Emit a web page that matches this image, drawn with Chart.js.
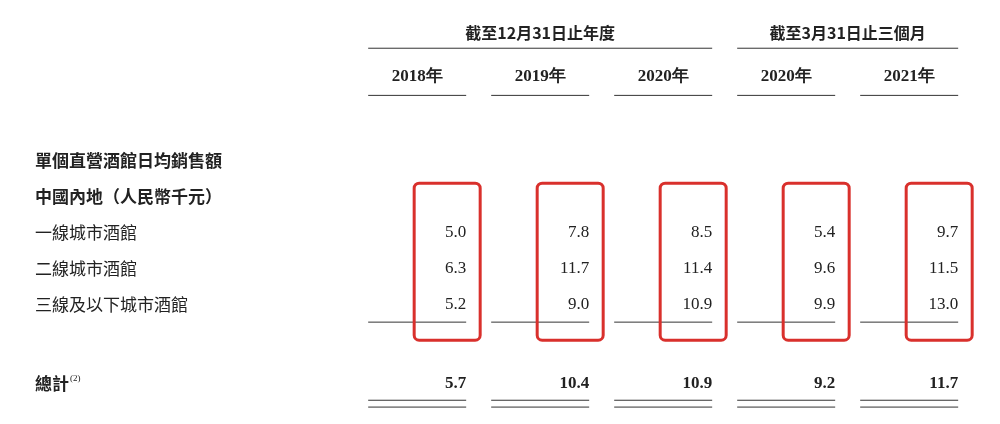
<![CDATA[<!DOCTYPE html>
<html><head><meta charset="utf-8">
<script src="https://cdn.jsdelivr.net/npm/chart.js@4"></script>
<style>html,body{margin:0;background:#fff}#wrap{width:1000px;height:424px}</style>
</head><body><div id="wrap"><canvas id="tbl"></canvas></div>
<script>
// columns and rows of the table
const groups = ["截至12月31日止年度", "截至3月31日止三個月"];
const periods = ["2018年", "2019年", "2020年", "2020年", "2021年"];
const rowLabels = ["單個直營酒館日均銷售額", "中國內地（人民幣千元）", "一線城市酒館", "二線城市酒館", "三線及以下城市酒館"];
const tier1 = [5.0, 7.8, 8.5, 5.4, 9.7];
const tier2 = [6.3, 11.7, 11.4, 9.6, 11.5];
const tier3 = [5.2, 9.0, 10.9, 9.9, 13.0];
const total = [5.7, 10.4, 10.9, 9.2, 11.7];
const totalLabel = "總計";
const totalNote = "(2)";

const CJK = '"Noto Sans CJK TC", sans-serif';
const NUM = '"Liberation Serif", serif';
const TOTAL_ROW = 4.2;

function pts(vals, row) { return vals.map((v, i) => ({ x: i, y: row, v: v })); }

const tablePlugin = {
  id: "tablePlugin",
  afterDatasetsDraw(chart) {
    const c = chart.ctx, xs = chart.scales.x, ys = chart.scales.y;
    const Y = r => ys.getPixelForValue(r);
    const line = (x0, x1, y) => { c.beginPath(); c.moveTo(x0, y); c.lineTo(x1, y); c.stroke(); };
    c.save();
    c.fillStyle = "#222"; c.strokeStyle = "#333"; c.lineWidth = 1;
    // values
    chart.data.datasets.forEach(ds => {
      c.font = (ds.bold ? "bold " : "") + "17px " + NUM;
      c.textAlign = "right"; c.textBaseline = "middle";
      ds.data.forEach(p => c.fillText(p.v.toFixed(1), xs.getPixelForValue(p.x), Y(p.y)));
    });
    // row labels
    c.textAlign = "left";
    rowLabels.forEach((t, i) => {
      c.font = (i < 2 ? "bold " : "") + "17px " + CJK;
      c.fillText(t, 35, Y(i - 2));
    });
    c.font = "bold 17px " + CJK;
    c.fillText(totalLabel, 35, Y(TOTAL_ROW));
    const w = c.measureText(totalLabel).width;
    c.font = "9px " + NUM;
    c.fillText(totalNote, 35 + w + 1, Y(TOTAL_ROW) - 5);
    // period headers
    const left = i => xs.getPixelForValue(i) - 98, right = i => xs.getPixelForValue(i);
    periods.forEach((p, i) => {
      c.textAlign = "center"; c.font = "bold 17px " + NUM;
      c.fillText(p, (left(i) + right(i)) / 2, Y(-4.33));
      line(left(i), right(i), Y(-3.8));
      line(left(i), right(i), Y(2.5));
      line(left(i), right(i), Y(4.67));
      line(left(i), right(i), Y(4.86));
      // red frame
      const fx = xs.getPixelForValue(i) - 52, fy = Y(-1.36);
      c.save(); c.strokeStyle = "#d9302c"; c.lineWidth = 3;
      c.beginPath(); c.roundRect(fx, fy, 66, Y(3.0) - fy, 5); c.stroke(); c.restore();
    });
    // group headers
    [[0, 2], [3, 4]].forEach((g, k) => {
      c.font = "bold 16px " + CJK;
      c.fillText(groups[k], (left(g[0]) + right(g[1])) / 2, Y(-5.53));
      line(left(g[0]), right(g[1]), Y(-5.11));
    });
    c.restore();
  }
};

new Chart(document.getElementById("tbl"), {
  type: "scatter",
  data: {
    datasets: [
      { data: pts(tier1, 0), pointRadius: 0 },
      { data: pts(tier2, 1), pointRadius: 0 },
      { data: pts(tier3, 2), pointRadius: 0 },
      { data: pts(total, TOTAL_ROW), pointRadius: 0, bold: true }
    ]
  },
  options: {
    responsive: true, maintainAspectRatio: false, animation: false,
    layout: { padding: 0 },
    plugins: { legend: { display: false }, tooltip: { enabled: false } },
    scales: {
      x: { type: "linear", display: false, min: -3.79, max: 4.34 },
      y: { type: "linear", display: false, reverse: true, min: -6.45, max: 5.33 }
    }
  },
  plugins: [tablePlugin]
});
</script></body></html>]]>
